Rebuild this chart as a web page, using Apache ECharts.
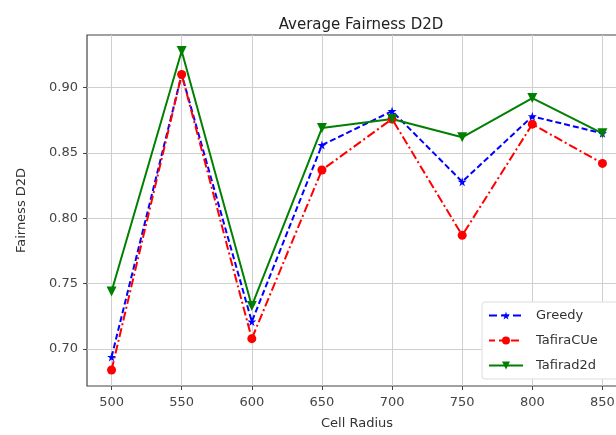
<!DOCTYPE html>
<html>
<head>
<meta charset="utf-8">
<script src="https://cdn.jsdelivr.net/npm/echarts@6/dist/echarts.min.js"></script>
<style>
  html, body { margin: 0; padding: 0; background: #fff; }
  #chart { width: 616px; height: 435px; }
</style>
</head>
<body>
<div id="chart"></div>
<script>
// cell radius values
var radius = [500, 550, 600, 650, 700, 750, 800, 850]
var greedy = [0.694, 0.910, 0.721, 0.856, 0.882, 0.828, 0.878, 0.865]
var tafiraCUe = [0.684, 0.910, 0.708, 0.837, 0.876, 0.787, 0.872, 0.842]
var tafirad2d = [0.744, 0.928, 0.733, 0.869, 0.876, 0.862, 0.892, 0.865]
var xTicks = [500, 550, 600, 650, 700, 750, 800, 850]
var yTicks = [0.70, 0.75, 0.80, 0.85, 0.90]

// matplotlib style 5% margins
var allY = greedy.concat(tafiraCUe, tafirad2d)
var yLo = Math.min.apply(null, allY), yHi = Math.max.apply(null, allY)
var xLo = Math.min.apply(null, radius), xHi = Math.max.apply(null, radius)
var yPad = (yHi - yLo) * 0.05, xPad = (xHi - xLo) * 0.05

var star = 'path://M50,0 L61,35 L98,35 L68,57 L79,91 L50,70 L21,91 L32,57 L2,35 L39,35 Z'
var font = 'DejaVu Sans'
var dashGreedy = [6, 3]
var dashCUe = [9, 3, 2, 3]

function pairs(ys) {
  return radius.map(function (x, i) { return [x, ys[i]] })
}

var chart = echarts.init(document.getElementById('chart'))
chart.setOption({
  animation: false,
  title: {
    text: 'Average Fairness D2D',
    left: 356,
    textAlign: 'center',
    top: 13,
    textStyle: { fontFamily: font, fontSize: 15, fontWeight: 'normal', color: '#222' }
  },
  grid: {
    left: 87,
    top: 35,
    width: 540,
    bottom: 49,
    outerBoundsMode: 'none',
    containLabel: false,
    show: true,
    borderColor: '#444',
    borderWidth: 1.2
  },
  legend: {
    orient: 'vertical',
    left: 482,
    top: 302,
    padding: [7, 24, 7, 6],
    itemWidth: 34,
    itemHeight: 10,
    itemGap: 12,
    backgroundColor: '#fff',
    borderColor: '#ddd',
    borderWidth: 1,
    borderRadius: 3,
    textStyle: { fontFamily: font, fontSize: 13, color: '#333', padding: [0, 0, 0, 8] },
    data: [
      { name: 'Greedy', lineStyle: { type: 'dashed' } },
      { name: 'TafiraCUe', lineStyle: { type: 'dashed', dashOffset: 2 } },
      { name: 'Tafirad2d' }
    ]
  },
  xAxis: {
    type: 'value',
    min: xLo - xPad,
    max: xHi + xPad,
    name: 'Cell Radius',
    nameLocation: 'middle',
    nameGap: 31,
    nameTextStyle: { fontFamily: font, fontSize: 13, color: '#333' },
    axisLine: { show: false },
    axisTick: { show: true, length: 4, customValues: xTicks, lineStyle: { color: '#444' } },
    axisLabel: { customValues: xTicks, margin: 10, fontFamily: font, fontSize: 13, color: '#444' },
    splitLine: { show: true, lineStyle: { color: '#cfcfcf', width: 1 } }
  },
  yAxis: {
    type: 'value',
    min: yLo - yPad,
    max: yHi + yPad,
    name: 'Fairness D2D',
    nameLocation: 'middle',
    nameGap: 59,
    nameTextStyle: { fontFamily: font, fontSize: 13, color: '#333' },
    axisLine: { show: false },
    axisTick: { show: true, length: 4, customValues: yTicks, lineStyle: { color: '#444' } },
    axisLabel: {
      customValues: yTicks,
      margin: 9,
      fontFamily: font,
      fontSize: 13,
      color: '#444',
      formatter: function (v) { return v.toFixed(2) }
    },
    splitLine: { show: true, lineStyle: { color: '#cfcfcf', width: 1 } }
  },
  series: [
    {
      name: 'Greedy',
      type: 'line',
      data: pairs(greedy),
      symbol: star,
      symbolSize: 9,
      itemStyle: { color: '#0000ff' },
      lineStyle: { color: '#0000ff', width: 2, type: dashGreedy }
    },
    {
      name: 'TafiraCUe',
      type: 'line',
      data: pairs(tafiraCUe),
      symbol: 'circle',
      symbolSize: 9,
      itemStyle: { color: '#ff0000' },
      lineStyle: { color: '#ff0000', width: 2, type: dashCUe }
    },
    {
      name: 'Tafirad2d',
      type: 'line',
      data: pairs(tafirad2d),
      symbol: 'triangle',
      symbolRotate: 180,
      symbolSize: 10,
      itemStyle: { color: '#008000' },
      lineStyle: { color: '#008000', width: 2 }
    }
  ]
})
</script>
</body>
</html>
